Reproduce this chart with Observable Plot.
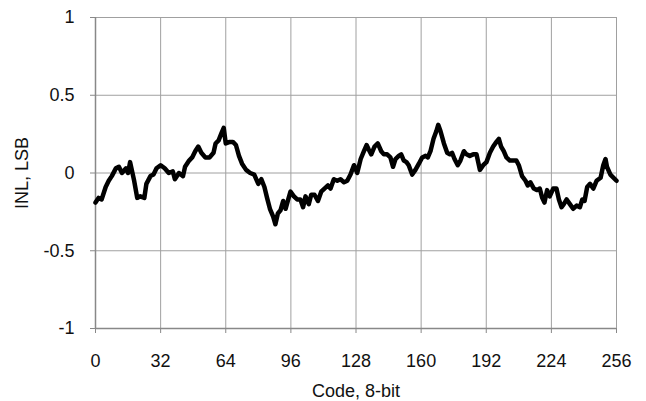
<!DOCTYPE html>
<html>
<head>
<meta charset="utf-8">
<script src="https://cdn.jsdelivr.net/npm/d3@7"></script>
<script src="https://cdn.jsdelivr.net/npm/@observablehq/plot@0.6"></script>
<style>
  html, body { margin: 0; padding: 0; background: #fff; }
  #chart svg { display: block; }
</style>
</head>
<body>
<div id="chart"></div>
<script>
const codes = [0, 1.5, 3, 5, 6.5, 8, 10, 11.5, 13, 15, 16, 17, 19, 20.5, 22, 24, 25, 27, 28.5, 30,
  32, 34, 36, 38, 39, 41, 43, 44, 46, 47.5, 49, 50.5, 52, 54, 56, 58, 59, 60.5, 62, 63,
  64, 66, 67.5, 69, 70.5, 72, 74, 76, 78, 80, 81.5, 83, 84.3, 85.7, 87.3, 88.4, 89.6, 90.9, 92.2, 93.4,
  94.5, 95.8, 97.5, 99.1, 100.7, 102, 103.2, 104.8, 106, 107.6, 109.3, 110.9, 112.5, 114.2, 115.5, 117.1, 118.8, 120.4, 122.1, 123.7,
  125.3, 127, 128.6, 130.3, 131.9, 133.2, 134.3, 135.5, 137.1, 138.7, 140.4, 141.7, 143.3, 144.9, 146.2, 147.4, 149, 150.2, 151.5, 152.8,
  153.9, 155.6, 157.2, 158.9, 160.5, 162.2, 163.3, 164.6, 166.1, 167.5, 168.4, 169.5, 171.2, 172.8, 174.1, 175.2, 176.4, 178, 179.3, 181,
  182.3, 183.9, 185.6, 187.2, 188.9, 190.5, 192.1, 193.8, 195.4, 197, 198.2, 199.3, 200.6, 201.9, 203.6, 205.2, 206.8, 208, 209.6, 211.3,
  212.4, 213.7, 215.4, 217, 218.3, 219.5, 220.6, 221.9, 223.2, 224.9, 226.5, 227.7, 229, 230.1, 231.5, 233.1, 234.7, 236.4, 238, 239.2,
  240.3, 241.6, 243, 244.6, 246.2, 248.2, 249.5, 250.6, 251.3, 253, 256];
const inl = [-0.19, -0.16, -0.17, -0.09, -0.05, -0.02, 0.03, 0.04, 0.00, 0.03, 0.00, 0.07, -0.05, -0.16, -0.15, -0.16, -0.07, -0.02, -0.01, 0.03,
  0.05, 0.03, 0.00, 0.01, -0.04, 0.00, -0.02, 0.04, 0.08, 0.10, 0.14, 0.17, 0.13, 0.10, 0.10, 0.13, 0.19, 0.21, 0.26, 0.29,
  0.19, 0.20, 0.20, 0.18, 0.11, 0.06, 0.02, 0.00, -0.01, -0.07, -0.04, -0.09, -0.16, -0.23, -0.28, -0.33, -0.26, -0.24, -0.18, -0.23,
  -0.18, -0.12, -0.15, -0.17, -0.17, -0.22, -0.15, -0.20, -0.14, -0.14, -0.18, -0.12, -0.10, -0.08, -0.10, -0.04, -0.05, -0.04, -0.06, -0.05,
  -0.01, 0.05, 0.00, 0.09, 0.14, 0.18, 0.15, 0.12, 0.17, 0.19, 0.14, 0.12, 0.12, 0.10, 0.04, 0.09, 0.11, 0.12, 0.08, 0.07,
  0.05, -0.01, 0.02, 0.06, 0.10, 0.11, 0.10, 0.14, 0.22, 0.27, 0.31, 0.27, 0.19, 0.13, 0.12, 0.13, 0.09, 0.05, 0.08, 0.14,
  0.12, 0.11, 0.12, 0.12, 0.02, 0.05, 0.07, 0.13, 0.17, 0.20, 0.22, 0.17, 0.14, 0.10, 0.08, 0.08, 0.08, 0.05, -0.02, -0.05,
  -0.08, -0.06, -0.10, -0.11, -0.10, -0.16, -0.19, -0.11, -0.15, -0.10, -0.10, -0.17, -0.22, -0.20, -0.17, -0.20, -0.23, -0.21, -0.22, -0.17,
  -0.18, -0.09, -0.07, -0.10, -0.05, -0.03, 0.05, 0.09, 0.04, -0.01, -0.05];

const xTicks = [0, 32, 64, 96, 128, 160, 192, 224, 256];
const yTicks = [-1, -0.5, 0, 0.5, 1];

const data = codes.map((c, i) => ({code: c, inl: inl[i]}));

const chart = Plot.plot({
  width: 646,
  height: 401,
  marginLeft: 95,
  marginRight: 30,
  marginTop: 17,
  marginBottom: 73,
  style: {fontFamily: "'Liberation Sans', Arial, sans-serif", fontSize: "18px", color: "#111", background: "#fff"},
  x: {domain: [0, 256]},
  y: {domain: [-1, 1]},
  marks: [
    Plot.gridX(xTicks, {stroke: "#a0a0a0", strokeOpacity: 1, strokeWidth: 1}),
    Plot.gridY(yTicks, {stroke: "#a0a0a0", strokeOpacity: 1, strokeWidth: 1}),
    Plot.axisX(xTicks, {tickSize: 5, tickPadding: 21, stroke: "#888", tickFormat: d => String(d),
      label: "Code, 8-bit", labelAnchor: "center", labelArrow: "none", labelOffset: 68, fill: "#111"}),
    Plot.axisY(yTicks, {tickSize: 5, tickPadding: 16, stroke: "#888", tickFormat: d => String(d),
      label: "INL, LSB", labelAnchor: "center", labelArrow: "none", labelOffset: 80, fill: "#111"}),
    Plot.ruleX([0], {stroke: "#888", strokeWidth: 1.5}),
    Plot.ruleY([-1], {stroke: "#888", strokeWidth: 1.5}),
    Plot.line(data, {x: "code", y: "inl", stroke: "#000", strokeWidth: 4.5, strokeLinejoin: "round", strokeLinecap: "round"})
  ]
});
document.getElementById("chart").appendChild(chart);
</script>
</body>
</html>
